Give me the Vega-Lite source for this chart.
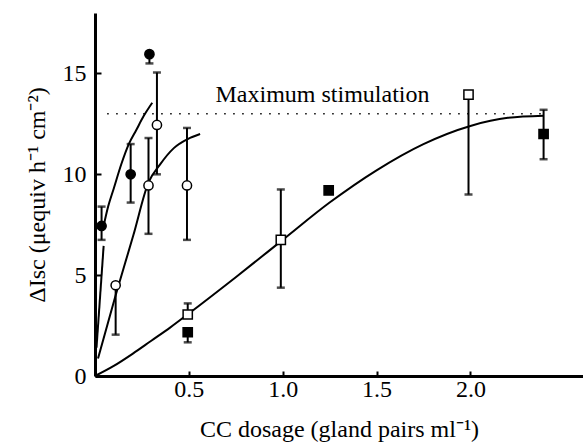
{
  "$schema": "https://vega.github.io/schema/vega-lite/v6.json",
  "width": 488,
  "height": 363,
  "autosize": {"type": "none"},
  "padding": {"left": 95, "top": 13, "right": 0, "bottom": 67},
  "background": "white",
  "config": {
    "view": {"stroke": null},
    "font": "Liberation Serif",
    "axis": {
      "grid": false,
      "domainColor": "black",
      "domainWidth": 3,
      "tickColor": "black",
      "tickWidth": 2,
      "labelFont": "Liberation Serif",
      "labelFontSize": 24,
      "labelColor": "black",
      "titleFont": "Liberation Serif",
      "titleFontSize": 24,
      "titleFontWeight": "normal",
      "titleColor": "black"
    }
  },
  "datasets": {
    "pts": [
      {"series": "A", "x": 0.035, "y": 7.44, "lo": 6.75, "hi": 8.4},
      {"series": "A", "x": 0.19, "y": 10.0, "lo": 8.6, "hi": 11.5},
      {"series": "A", "x": 0.29, "y": 15.96, "lo": 15.5, "hi": 15.96},
      {"series": "B", "x": 0.11, "y": 4.5, "lo": 2.05, "hi": 4.5},
      {"series": "B", "x": 0.285, "y": 9.45, "lo": 7.05, "hi": 11.8},
      {"series": "B", "x": 0.33, "y": 12.45, "lo": 10.0, "hi": 15.05},
      {"series": "B", "x": 0.49, "y": 9.45, "lo": 6.75, "hi": 12.3},
      {"series": "C", "x": 0.494, "y": 3.05, "lo": 3.05, "hi": 3.6},
      {"series": "C", "x": 0.99, "y": 6.75, "lo": 4.38, "hi": 9.25},
      {"series": "C", "x": 1.99, "y": 13.95, "lo": 9.0, "hi": 13.95},
      {"series": "D", "x": 0.494, "y": 2.17, "lo": 1.67, "hi": 2.17},
      {"series": "D", "x": 1.245, "y": 9.2, "lo": 9.2, "hi": 9.2},
      {"series": "D", "x": 2.39, "y": 12.0, "lo": 10.75, "hi": 13.2}
    ],
    "curves": [
      {"curve": "A1", "x": 0.008, "y": 1.4},
      {"curve": "A1", "x": 0.046, "y": 6.45},
      {"curve": "A2", "x": 0.045, "y": 7.4},
      {"curve": "A2", "x": 0.07, "y": 8.4},
      {"curve": "A2", "x": 0.1, "y": 9.3},
      {"curve": "A2", "x": 0.14, "y": 10.5},
      {"curve": "A2", "x": 0.18, "y": 11.5},
      {"curve": "A2", "x": 0.22, "y": 12.2},
      {"curve": "A2", "x": 0.26, "y": 12.9},
      {"curve": "A2", "x": 0.305, "y": 13.55},
      {"curve": "B", "x": 0.016, "y": 0.87},
      {"curve": "B", "x": 0.11, "y": 4.0},
      {"curve": "B", "x": 0.205, "y": 7.0},
      {"curve": "B", "x": 0.285, "y": 9.6},
      {"curve": "B", "x": 0.345, "y": 10.47},
      {"curve": "B", "x": 0.42, "y": 11.3},
      {"curve": "B", "x": 0.494, "y": 11.75},
      {"curve": "B", "x": 0.56, "y": 12.0},
      {"curve": "C", "x": 0.0, "y": 0.0},
      {"curve": "C", "x": 0.1, "y": 0.5},
      {"curve": "C", "x": 0.2, "y": 1.1},
      {"curve": "C", "x": 0.3, "y": 1.75},
      {"curve": "C", "x": 0.4, "y": 2.4},
      {"curve": "C", "x": 0.5, "y": 3.1},
      {"curve": "C", "x": 0.75, "y": 4.9},
      {"curve": "C", "x": 1.0, "y": 6.75},
      {"curve": "C", "x": 1.25, "y": 8.6},
      {"curve": "C", "x": 1.5, "y": 10.2},
      {"curve": "C", "x": 1.75, "y": 11.5},
      {"curve": "C", "x": 2.0, "y": 12.4},
      {"curve": "C", "x": 2.2, "y": 12.8},
      {"curve": "C", "x": 2.39, "y": 12.9}
    ]
  },
  "layer": [
    {
      "data": {"values": [{"x": 0.065, "x2": 2.41, "y": 13}]},
      "mark": {"type": "rule", "color": "black", "strokeWidth": 1.5, "strokeDash": [1.5, 7.5]},
      "encoding": {
        "x": {"field": "x", "type": "quantitative", "scale": {"domain": [0, 2.41]}, "title": "CC dosage (gland pairs ml⁻¹)",
          "axis": {"values": [0.5, 1, 1.5, 2], "format": ".1f", "tickSize": -5, "labelPadding": 6, "titlePadding": 16}},
        "x2": {"field": "x2"},
        "y": {"field": "y", "type": "quantitative", "scale": {"domain": [0, 17.9]}, "title": "ΔIsc (μequiv h⁻¹ cm⁻²)",
          "axis": {"values": [0, 5, 10, 15], "tickSize": -6, "labelPadding": 15, "titlePadding": 13}}
      }
    },
    {
      "data": {"name": "curves"},
      "mark": {"type": "line", "color": "black", "strokeWidth": 2, "interpolate": "monotone"},
      "encoding": {
        "x": {"field": "x", "type": "quantitative", "title": "CC dosage (gland pairs ml⁻¹)"},
        "y": {"field": "y", "type": "quantitative", "title": "ΔIsc (μequiv h⁻¹ cm⁻²)"},
        "detail": {"field": "curve"}
      }
    },
    {
      "data": {"name": "pts"},
      "mark": {"type": "errorbar", "ticks": {"size": 8, "thickness": 2.5, "color": "black"}, "rule": {"strokeWidth": 2, "color": "black"}},
      "encoding": {
        "x": {"field": "x", "type": "quantitative", "title": "CC dosage (gland pairs ml⁻¹)"},
        "y": {"field": "lo", "type": "quantitative", "title": "ΔIsc (μequiv h⁻¹ cm⁻²)"},
        "y2": {"field": "hi"}
      }
    },
    {
      "data": {"name": "pts"},
      "mark": {"type": "point", "filled": true, "stroke": "black", "strokeWidth": 1.5, "opacity": 1},
      "encoding": {
        "x": {"field": "x", "type": "quantitative", "title": "CC dosage (gland pairs ml⁻¹)"},
        "y": {"field": "y", "type": "quantitative", "title": "ΔIsc (μequiv h⁻¹ cm⁻²)"},
        "shape": {"field": "series", "type": "nominal", "scale": {"domain": ["A", "B", "C", "D"], "range": ["circle", "circle", "square", "square"]}, "legend": null},
        "fill": {"field": "series", "type": "nominal", "scale": {"domain": ["A", "B", "C", "D"], "range": ["black", "white", "white", "black"]}, "legend": null},
        "size": {"field": "series", "type": "nominal", "scale": {"domain": ["A", "B", "C", "D"], "range": [85, 85, 95, 95]}, "legend": null}
      }
    },
    {
      "data": {"values": [{"x": 0.642, "y": 13.6, "label": "Maximum stimulation"}]},
      "mark": {"type": "text", "font": "Liberation Serif", "fontSize": 24, "align": "left", "baseline": "alphabetic", "color": "black"},
      "encoding": {
        "x": {"field": "x", "type": "quantitative", "title": "CC dosage (gland pairs ml⁻¹)"},
        "y": {"field": "y", "type": "quantitative", "title": "ΔIsc (μequiv h⁻¹ cm⁻²)"},
        "text": {"field": "label"}
      }
    }
  ]
}
